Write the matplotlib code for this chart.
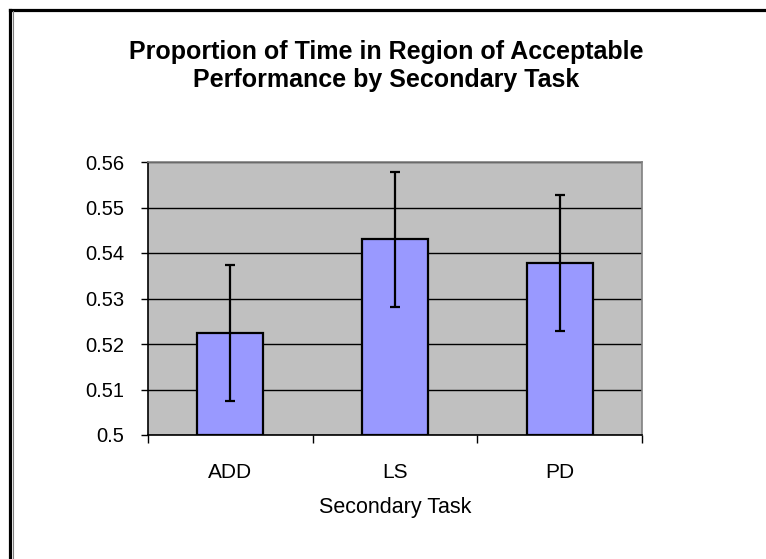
import numpy as np
import matplotlib
matplotlib.use('Agg')
import matplotlib.pyplot as plt
from matplotlib.lines import Line2D
from matplotlib.ticker import FixedLocator, FuncFormatter

plt.rcParams['font.family'] = ['Liberation Sans', 'DejaVu Sans']

# data
tasks = ['ADD', 'LS', 'PD']
proportion = [0.5224, 0.5430, 0.5378]
err = [0.0150, 0.0149, 0.0150]
yticks = [0.50, 0.51, 0.52, 0.53, 0.54, 0.55, 0.56]

W, H = 766, 559
fig = plt.figure(figsize=(W / 100, H / 100), dpi=100)
ax = fig.add_axes([148 / W, 1 - 435 / H, (642 - 148) / W, (435 - 162) / H])

ax.set_facecolor('#C0C0C0')
ax.set_axisbelow(True)
ax.yaxis.grid(True, color='black', lw=1)

x = np.arange(len(tasks))
ax.bar(x, np.array(proportion) - 0.5, bottom=0.5, width=0.4, color='#9999FF',
       edgecolor='black', lw=1.6, zorder=2)
ax.errorbar(x, proportion, yerr=err, fmt='none', ecolor='black', elinewidth=1.6,
            capsize=3.3, capthick=1.6, zorder=3)

ax.set_xlim(-0.5, len(tasks) - 0.5)
ax.set_ylim(0.5, 0.56)
ax.set_yticks(yticks)
ax.yaxis.set_major_formatter(FuncFormatter(lambda v, p: f'{v:g}'))
ax.set_xticks(x)
ax.set_xticklabels(tasks)
ax.xaxis.set_minor_locator(FixedLocator(np.arange(-0.5, len(tasks), 1.0)))
ax.tick_params(axis='x', which='major', length=0, pad=20, labelsize=15)
ax.tick_params(axis='x', which='minor', length=6, width=1, direction='out')
ax.tick_params(axis='y', length=5, width=1, direction='out', pad=12, labelsize=14.5)

for s in ['top', 'right']:
    ax.spines[s].set_color('#808080')
    ax.spines[s].set_linewidth(1.2)
for s in ['left', 'bottom']:
    ax.spines[s].set_color('black')
    ax.spines[s].set_linewidth(1.2)

ax.set_xlabel('Secondary Task', fontsize=15.5, labelpad=11)

fig.text(386 / W, 1 - 66 / H, 'Proportion of Time in Region of Acceptable\nPerformance by Secondary Task',
         ha='center', va='center', fontsize=18, fontweight='bold', linespacing=1.25)

# chart frame (left and top edges)
fig.add_artist(Line2D([9.5 / W, 9.5 / W], [0, 1 - 9.5 / H], color='black', lw=2.3))
fig.add_artist(Line2D([9.5 / W, 1], [1 - 9.5 / H, 1 - 9.5 / H], color='black', lw=2.3))
fig.add_artist(Line2D([12.5 / W, 12.5 / W], [0, 1 - 11 / H], color='#808080', lw=0.8))

fig.savefig('out.png', dpi=100)
